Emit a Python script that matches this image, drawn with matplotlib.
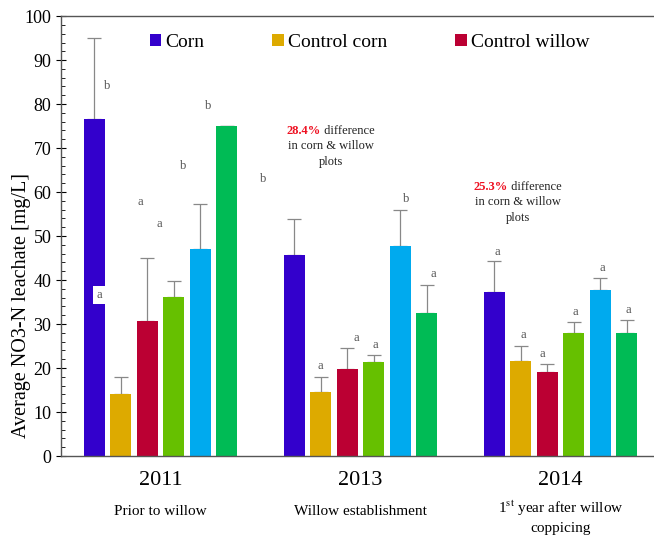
import matplotlib.pyplot as plt
import numpy as np
from matplotlib.patches import Patch

plt.rcParams['font.family'] = ['Liberation Serif', 'DejaVu Serif']
plt.rcParams['mathtext.fontset'] = 'stix'

years = ['2011', '2013', '2014']
periods = ['Prior to willow', 'Willow establishment',
           '1$^{\\mathrm{st}}$ year after willow\ncoppicing']
series = ['Corn', 'Control corn', 'Control willow', 'Willow A', 'Willow B', 'Willow C']
colors = ['#3300CC', '#DDAA00', '#BB0033', '#66C000', '#00AAEE', '#00BB55']

# mean values per series, one per year
corn = [76.6, 45.6, 37.3]
control_corn = [14.1, 14.5, 21.7]
control_willow = [30.7, 19.8, 19.0]
willow_a = [36.2, 21.4, 27.9]
willow_b = [47.0, 47.7, 37.7]
willow_c = [75.0, 32.5, 27.9]

# top of the error whisker
corn_top = [95.0, 53.8, 44.3]
control_corn_top = [18.0, 18.0, 25.0]
control_willow_top = [45.0, 24.5, 21.0]
willow_a_top = [39.8, 23.0, 30.4]
willow_b_top = [57.2, 55.9, 40.4]
willow_c_top = [75.0, 38.9, 31.0]

values = [corn, control_corn, control_willow, willow_a, willow_b, willow_c]
tops = [corn_top, control_corn_top, control_willow_top, willow_a_top, willow_b_top, willow_c_top]

# significance letters as placed on the chart (x, y, letter)
letters = [(-0.2675, 84, 'b'), (-0.1025, 57.7, 'a'), (-0.0075, 52.7, 'a'),
           (0.1125, 66, 'b'), (0.2375, 79.5, 'b'),
           (0.5125, 63, 'b'), (0.7975, 20.5, 'a'), (0.9775, 26.8, 'a'),
           (1.0725, 25.2, 'a'), (1.2275, 58.4, 'b'), (1.3625, 41.4, 'a'),
           (1.6825, 46.4, 'a'), (1.8125, 27.5, 'a'), (1.9075, 23.2, 'a'),
           (2.0725, 32.7, 'a'), (2.2075, 42.7, 'a'), (2.3375, 33.2, 'a')]

fig = plt.figure(figsize=(6.54, 5.37), dpi=100)
ax = fig.add_axes([0.0933, 0.1508, 0.9067, 0.8192])

x = np.arange(len(years))
step = 0.1325
width = 0.105
for i in range(len(series)):
    pos = x + (i - 2.5) * step
    v = np.array(values[i])
    err = np.array(tops[i]) - v
    ax.bar(pos, v, width, color=colors[i], zorder=2)
    ax.errorbar(pos, v, yerr=[np.zeros_like(err), err], fmt='none',
                ecolor='#888888', elinewidth=0.9, capsize=5, capthick=0.9, zorder=1)

for lx, ly, lt in letters:
    ax.text(lx, ly, lt, ha='center', va='center', fontsize=9, color='#555555', zorder=4)
ax.text(-0.3075, 36.6, 'a', ha='center', va='center', fontsize=9, color='#555555',
        bbox=dict(facecolor='white', edgecolor='none', pad=2), zorder=4)

# difference notes
notes = [(0.8025, 73.9, '28.4%'), (1.7375, 61.1, '25.3%')]
for nx, ny, pct in notes:
    ax.text(nx, ny, pct, ha='right', va='center', fontsize=9, color='#EE1122', fontweight='bold')
    ax.text(nx, ny, ' difference', ha='left', va='center', fontsize=9, color='#222222')
    ax.text(nx + 0.05, ny - 3.4, 'in corn & willow', ha='center', va='center', fontsize=9, color='#222222')
    ax.text(nx + 0.05, ny - 7.1, 'plots', ha='center', va='center', fontsize=9, color='#222222')

ax.set_xlim(-0.4975, 2.4675)
ax.set_ylim(0, 100)
ax.set_yticks(np.arange(0, 101, 10))
ax.set_yticks(np.arange(0, 101, 2), minor=True)
ax.tick_params(axis='y', which='major', direction='inout', length=7, labelsize=13, width=0.8)
ax.tick_params(axis='y', which='minor', direction='in', length=3, width=0.6)
ax.set_xticks([])
ax.spines['right'].set_visible(False)
for s in ['left', 'top', 'bottom']:
    ax.spines[s].set_color('#555555')
    ax.spines[s].set_linewidth(1.0)

ax.text(-0.066, 0.343, 'Average NO3-N leachate [mg/L]', transform=ax.transAxes,
        rotation=90, ha='center', va='center', fontsize=14.5)

tr = ax.get_xaxis_transform()
for i in range(len(years)):
    ax.text(x[i], -0.055, years[i], transform=tr, ha='center', va='center', fontsize=16)
    ypos = -0.139 if '\n' in periods[i] else -0.125
    ax.text(x[i], ypos, periods[i], transform=tr, ha='center', va='center', fontsize=11,
            linespacing=1.35)

handles = [Patch(facecolor=colors[i], edgecolor='none') for i in range(3)]
ax.legend(handles, series[:3], loc='center', bbox_to_anchor=(0.52, 0.94), ncol=3,
          frameon=False, fontsize=14, handlelength=0.6, handleheight=0.6,
          handletextpad=0.2, columnspacing=3.5)

fig.savefig('out.png', dpi=100)
